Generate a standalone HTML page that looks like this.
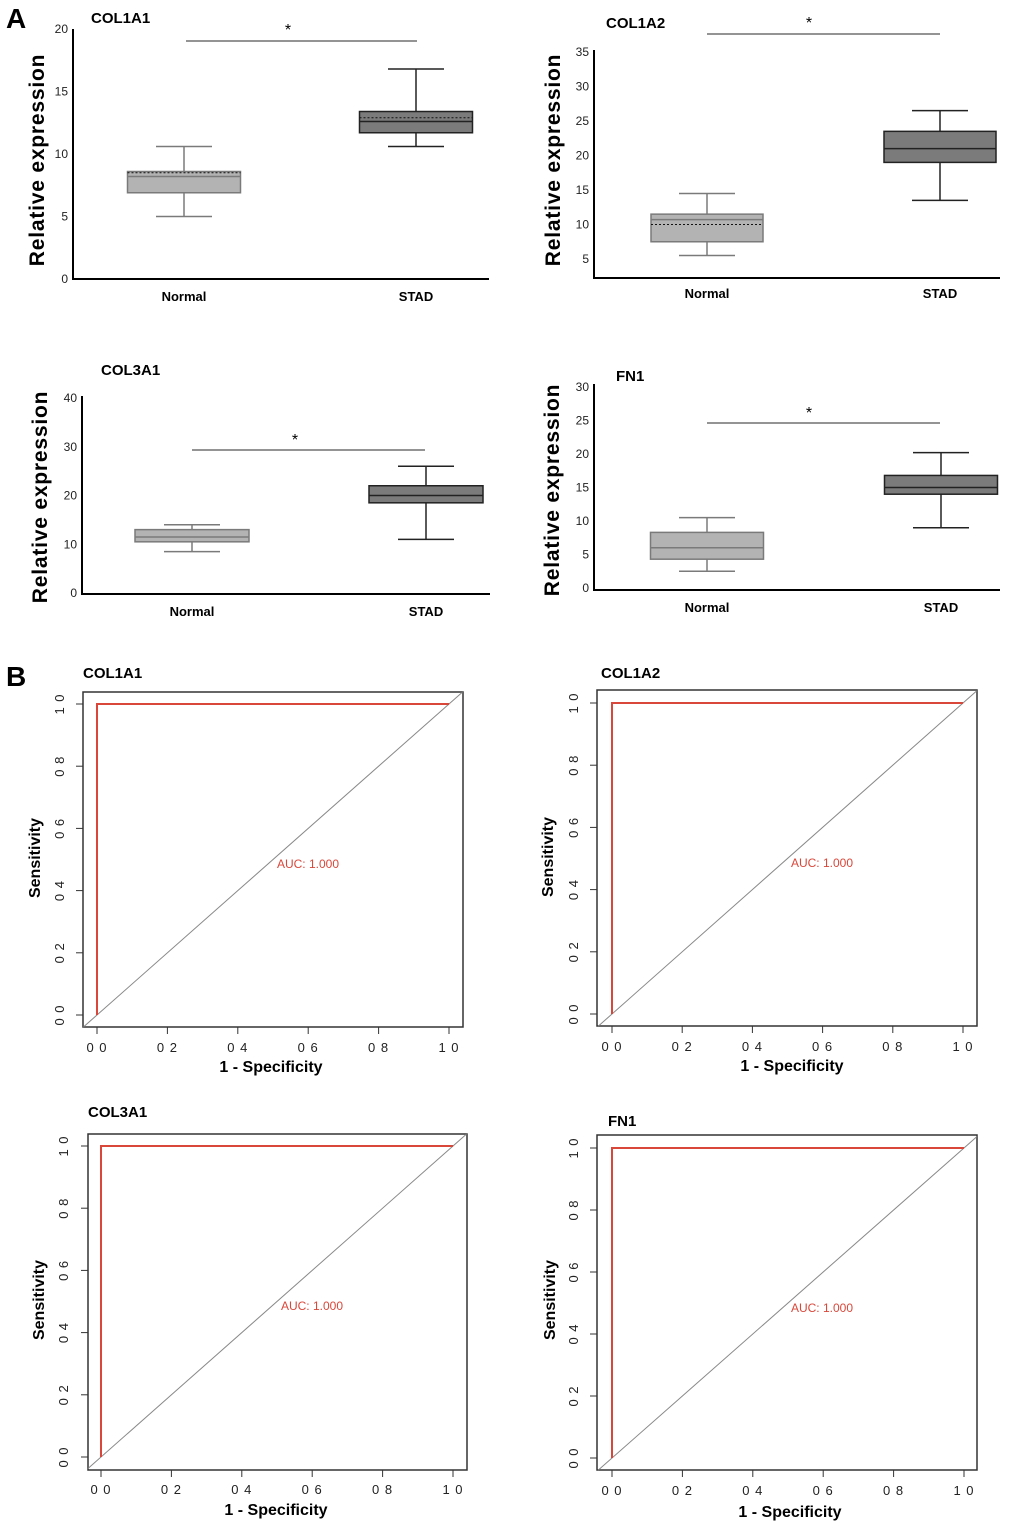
<!DOCTYPE html>
<html><head><meta charset="utf-8">
<style>
html,body{margin:0;padding:0;background:#fff;}
svg{display:block;font-family:"Liberation Sans",Arial,sans-serif;}
</style></head>
<body>
<svg id="fig" width="1020" height="1528" viewBox="0 0 1020 1528" xmlns="http://www.w3.org/2000/svg">
<text x="6" y="28" font-size="28" font-weight="bold">A</text>
<text x="6" y="686" font-size="28" font-weight="bold">B</text>
</svg>
<script>
// ---- Box plot data (min, q1, median, mean, q3, max) ----
const boxGenes = ["COL1A1", "COL1A2", "COL3A1", "FN1"];
const groupNames = ["Normal", "STAD"];
const normalStats = [
  [5.0, 6.9, 8.2, 8.5, 8.6, 10.6],
  [5.5, 7.5, 10.7, 10.0, 11.5, 14.5],
  [8.5, 10.5, 11.5, 11.5, 13.0, 14.0],
  [2.5, 4.3, 6.0, 6.0, 8.3, 10.5]
];
const stadStats = [
  [10.6, 11.7, 12.6, 12.9, 13.4, 16.8],
  [13.5, 19.0, 21.0, 21.0, 23.5, 26.5],
  [11.0, 18.5, 20.0, 20.0, 22.0, 26.0],
  [9.0, 14.0, 15.0, 15.0, 16.8, 20.2]
];
const boxTicks = [[0,5,10,15,20],[5,10,15,20,25,30,35],[0,10,20,30,40],[0,5,10,15,20,25,30]];
// ---- ROC data ----
const rocGenes = ["COL1A1", "COL1A2", "COL3A1", "FN1"];
const rocFpr = [0, 0, 1];
const rocTpr = [0, 1, 1];
const aucValues = ["1.000", "1.000", "1.000", "1.000"];
const rocTickValues = [0, 0.2, 0.4, 0.6, 0.8, 1.0];
const rocTickLabels = ["0 0", "0 2", "0 4", "0 6", "0 8", "1 0"];

const NS = "http://www.w3.org/2000/svg";
const svg = document.getElementById("fig");
function mk(tag, attrs, parent, text) {
  const e = document.createElementNS(NS, tag);
  for (const k in attrs) e.setAttribute(k, attrs[k]);
  if (text !== undefined) e.textContent = text;
  (parent || svg).appendChild(e);
  return e;
}

const boxLayout = [
  {ax:73, top:29, bottom:279, right:489, cx:[184,416], bw:113, title:[91,23], sig:[186,417,41], star:[288,35], lbl:301, ylab:[44,160]},
  {ax:594, top:50, bottom:278, right:1000, y5:259, y35:52, cx:[707,940], bw:112, title:[606,28], sig:[707,940,34], star:[809,28], lbl:298, ylab:[560,160]},
  {ax:82, top:396, bottom:594, right:490, y0:593, y40:398, cx:[192,426], bw:114, title:[101,375], sig:[192,425,450], star:[295,445], lbl:616, ylab:[47,497]},
  {ax:594, top:384, bottom:590, right:1000, y0:588, y30:387, cx:[707,941], bw:113, title:[616,381], sig:[707,940,423], star:[809,418], lbl:612, ylab:[559,490]}
];
function boxScale(i) {
  const L = boxLayout[i];
  if (i===0) return v => L.bottom - v * (L.bottom - L.top) / 20;
  if (i===1) return v => L.y5 + (v - 5) * (L.y35 - L.y5) / 30;
  if (i===2) return v => L.y0 + v * (L.y40 - L.y0) / 40;
  return v => L.y0 + v * (L.y30 - L.y0) / 30;
}
boxGenes.forEach((gene, i) => {
  const L = boxLayout[i], y = boxScale(i);
  const g = mk("g", {});
  
  
  const t = mk("text", {x:L.title[0], y:L.title[1], "font-size":15, "font-weight":"bold"}, g, gene);
  
  
  const yl = mk("text", {x:0, y:0, "font-size":21, "font-weight":"bold", "text-anchor":"middle", "letter-spacing":"0.8", transform:`translate(${L.ylab[0]},${L.ylab[1]}) rotate(-90)`}, g, "Relative expression");
  
  
  const axes = mk("path", {d:`M${L.ax},${L.top}V${L.bottom}H${L.right}`, fill:"none", stroke:"#000", "stroke-width":2}, g);
  
  
  boxTicks[i].forEach(v => {
    const tl = mk("text", {x:L.ax-5, y:y(v)+4, "font-size":12, "text-anchor":"end", fill:"#222"}, g, String(v));
    
    
  });
  [normalStats[i], stadStats[i]].forEach((s, j) => {
    const cx = L.cx[j], hw = L.bw/2;
    const fill = j===0 ? "#b3b3b3" : "#7b7b7b";
    const st = j===0 ? "#7a7a7a" : "#222";
    const bg = mk("g", {}, g);
    
    
    mk("line", {x1:cx, x2:cx, y1:y(s[0]), y2:y(s[1]), stroke:st, "stroke-width":1.5}, bg);
    mk("line", {x1:cx, x2:cx, y1:y(s[4]), y2:y(s[5]), stroke:st, "stroke-width":1.5}, bg);
    mk("line", {x1:cx-28, x2:cx+28, y1:y(s[0]), y2:y(s[0]), stroke:st, "stroke-width":1.5}, bg);
    mk("line", {x1:cx-28, x2:cx+28, y1:y(s[5]), y2:y(s[5]), stroke:st, "stroke-width":1.5}, bg);
    mk("rect", {x:cx-hw, y:y(s[4]), width:L.bw, height:y(s[1])-y(s[4]), fill:fill, stroke:st, "stroke-width":1.5}, bg);
    mk("line", {x1:cx-hw, x2:cx+hw, y1:y(s[2]), y2:y(s[2]), stroke:st, "stroke-width":1.5}, bg);
    if (Math.abs(s[3]-s[2])>0.05) mk("line", {x1:cx-hw, x2:cx+hw, y1:y(s[3]), y2:y(s[3]), stroke:"#111", "stroke-width":1, "stroke-dasharray":"2,2"}, bg);
    const gl = mk("text", {x:cx, y:L.lbl, "font-size":13, "font-weight":"bold", "text-anchor":"middle"}, g, groupNames[j]);
    
    
  });
  const sl = mk("line", {x1:L.sig[0], x2:L.sig[1], y1:L.sig[2], y2:L.sig[2], stroke:"#555", "stroke-width":1.3}, g);
  
  
  const sa = mk("text", {x:L.star[0], y:L.star[1], "font-size":16, "text-anchor":"middle"}, g, "*");
  
  
});

const rocLayout = [
  {bx:[83,463], by:[692,1027], x0:97, x1:449, y1:704, y0:1015, title:[83,678], auc:[308,868], xt:1052, xlab:[271,1072], ylab:[40,858], ytx:64},
  {bx:[597,977], by:[690,1026], x0:612, x1:963, y1:703, y0:1014, title:[601,678], auc:[822,867], xt:1051, xlab:[792,1071], ylab:[553,857], ytx:578},
  {bx:[88,467], by:[1134,1470], x0:101, x1:453, y1:1146, y0:1457, title:[88,1117], auc:[312,1310], xt:1494, xlab:[276,1515], ylab:[44,1300], ytx:68},
  {bx:[597,977], by:[1135,1470], x0:612, x1:964, y1:1148, y0:1458, title:[608,1126], auc:[822,1312], xt:1495, xlab:[790,1517], ylab:[555,1300], ytx:578}
];
rocGenes.forEach((gene, i) => {
  const L = rocLayout[i];
  const X = v => L.x0 + v*(L.x1-L.x0);
  const Y = v => L.y0 + v*(L.y1-L.y0);
  const g = mk("g", {});
  
  
  const t = mk("text", {x:L.title[0], y:L.title[1], "font-size":15, "font-weight":"bold"}, g, gene);
  
  
  const fr = mk("rect", {x:L.bx[0], y:L.by[0], width:L.bx[1]-L.bx[0], height:L.by[1]-L.by[0], fill:"none", stroke:"#333", "stroke-width":1.5}, g);
  
  
  const vx0 = (L.bx[0]-L.x0)/(L.x1-L.x0), vx1 = (L.bx[1]-L.x0)/(L.x1-L.x0);
  const vy0 = (L.by[1]-L.y0)/(L.y1-L.y0), vy1 = (L.by[0]-L.y0)/(L.y1-L.y0);
  const a = Math.max(vx0, vy0), b = Math.min(vx1, vy1);
  const dg = mk("line", {x1:X(a), y1:Y(a), x2:X(b), y2:Y(b), stroke:"#888", "stroke-width":1}, g);
  
  
  const pts = rocFpr.map((f, k) => X(f)+","+Y(rocTpr[k])).join(" ");
  const rc = mk("polyline", {points:pts, fill:"none", stroke:"#d9473a", "stroke-width":2}, g);
  
  
  const au = mk("text", {x:L.auc[0], y:L.auc[1], "font-size":12, fill:"#d9473a", "text-anchor":"middle"}, g, "AUC: " + aucValues[i]);
  
  
  rocTickValues.forEach((v, k) => {
    mk("line", {x1:X(v), x2:X(v), y1:L.by[1], y2:L.by[1]+7, stroke:"#333", "stroke-width":1}, g);
    const xl = mk("text", {x:X(v), y:L.xt, "font-size":13, "text-anchor":"middle", fill:"#222", "letter-spacing":"1"}, g, rocTickLabels[k]);
    
    
    mk("line", {x1:L.bx[0]-7, x2:L.bx[0], y1:Y(v), y2:Y(v), stroke:"#333", "stroke-width":1}, g);
    const yt = mk("text", {x:0, y:0, "font-size":13, "text-anchor":"middle", fill:"#222", "letter-spacing":"1", transform:`translate(${L.ytx},${Y(v)}) rotate(-90)`}, g, rocTickLabels[k]);
    
    
  });
  const xt = mk("text", {x:L.xlab[0], y:L.xlab[1], "font-size":16, "font-weight":"bold", "text-anchor":"middle"}, g, "1 - Specificity");
  
  
  const ytt = mk("text", {x:0, y:0, "font-size":16, "font-weight":"bold", "text-anchor":"middle", transform:`translate(${L.ylab[0]},${L.ylab[1]}) rotate(-90)`}, g, "Sensitivity");
  
  
});
</script>
</body></html>
